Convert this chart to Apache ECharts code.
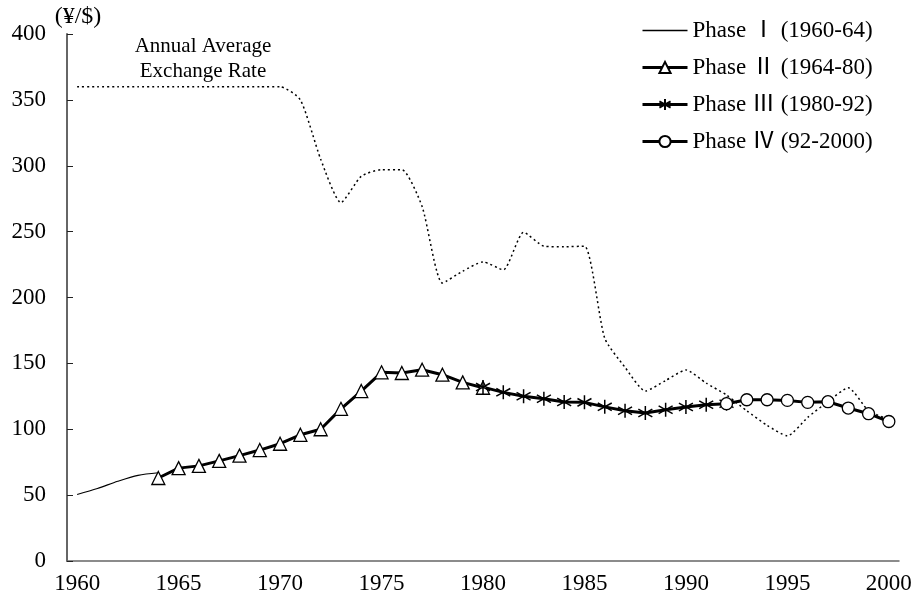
<!DOCTYPE html>
<html>
<head>
<meta charset="utf-8">
<script src="https://cdn.jsdelivr.net/npm/echarts@6/dist/echarts.min.js"></script>
<style>
  html, body { margin: 0; padding: 0; background: #fff; }
  #chart { width: 918px; height: 614px; }
</style>
</head>
<body>
<div id="chart"></div>
<script>
// years on the category axis
var years = [];
for (var y = 1960; y <= 2000; y++) years.push(String(y));

// annual average exchange rate (yen per dollar), 1960-2000
var annualRate = [360, 360, 360, 360, 360, 360, 360, 360, 360, 360, 360,
    350, 305, 272, 292, 297, 297, 269, 211, 220, 227,
    221, 249.5, 239, 238.5, 239, 169, 147, 129, 137, 145,
    135, 126, 114, 103, 95, 109, 121, 131.5, 114, 107.5];

// phases: start year + values
var phase1Start = 1960;
var phase1 = [50.5, 55, 60.5, 65, 67];
var phase2Start = 1964;
var phase2 = [63, 70.5, 72.2, 76, 80, 84.2, 89, 95.8, 100, 115.5, 129, 143.2, 142.7, 145.2, 141.4, 135.6, 131.5];
var phase3Start = 1980;
var phase3 = [132, 128, 125, 123.2, 120.7, 120.4, 117, 114, 112.3, 114.8, 116.9, 118.6, 119.4];
var phase4Start = 1992;
var phase4 = [119.4, 122.4, 122.4, 121.9, 120.4, 120.9, 116.1, 111.8, 105.9];

var phaseNames = ['Phase Ⅰ (1960-64)', 'Phase Ⅱ (1964-80)', 'Phase Ⅲ (1980-92)', 'Phase Ⅳ (92-2000)'];

var yTicks = { min: 0, max: 400, step: 50 };

var FONT = "'Liberation Serif', 'Noto Sans CJK JP', serif";

// put a phase onto the full year axis
function onAxis(start, values) {
    return years.map(function (yr) {
        var i = Number(yr) - start;
        return (i >= 0 && i < values.length) ? values[i] : null;
    });
}

var asterisk = 'path://M0,-1L0,1M-0.9,-0.55L0.9,0.55M-0.9,0.55L0.9,-0.55';

var chart = echarts.init(document.getElementById('chart'));
chart.setOption({
    animation: false,
    backgroundColor: '#fff',
    textStyle: { fontFamily: FONT, color: '#000' },
    grid: { left: 67, right: 19, top: 34, bottom: 53 },
    legend: {
        data: [
            { name: phaseNames[0], icon: 'path://M0,0L45,0L45,1.3L0,1.3Z' },
            phaseNames[1],
            phaseNames[2],
            phaseNames[3]
        ],
        orient: 'vertical',
        left: 636,
        top: 14,
        itemWidth: 45,
        itemHeight: 14,
        itemGap: 14,
        symbolKeepAspect: true,
        lineStyle: { width: 3 },
        textStyle: { fontFamily: FONT, fontSize: 23, color: '#000' }
    },
    graphic: [{
        type: 'text',
        x: 203,
        y: 34,
        style: {
            text: 'Annual Average\nExchange Rate',
            font: '21px ' + FONT,
            fill: '#000',
            align: 'center',
            lineHeight: 25
        }
    }],
    xAxis: {
        type: 'category',
        data: years,
        boundaryGap: true,
        axisLine: { lineStyle: { color: '#666', width: 1.5 } },
        axisTick: { inside: true, length: 5, interval: 0, lineStyle: { color: '#444' } },
        axisLabel: { interval: 4, fontSize: 23, color: '#000', margin: 11, fontFamily: FONT },
        splitLine: { show: false }
    },
    yAxis: {
        type: 'value',
        min: yTicks.min,
        max: yTicks.max,
        interval: yTicks.step,
        name: '(¥/$)',
        nameGap: 5,
        nameTextStyle: { fontSize: 24, color: '#000', fontFamily: FONT, padding: [0, 0, 0, 22] },
        axisLine: { show: true, lineStyle: { color: '#666', width: 2 } },
        axisTick: { show: true, inside: true, length: 6, lineStyle: { color: '#222' } },
        axisLabel: { fontSize: 23, color: '#000', margin: 21, fontFamily: FONT },
        splitLine: { show: false }
    },
    series: [
        {
            name: 'Annual Average Exchange Rate',
            type: 'line',
            data: annualRate,
            smooth: 0.2,
            symbol: 'none',
            lineStyle: { color: '#000', width: 1.5, type: [2, 3] },
            z: 1
        },
        {
            name: phaseNames[0],
            type: 'line',
            data: onAxis(phase1Start, phase1),
            smooth: 0.3,
            symbol: 'none',
            lineStyle: { color: '#000', width: 1.2 },
            itemStyle: { color: '#000' }
        },
        {
            name: phaseNames[1],
            type: 'line',
            data: onAxis(phase2Start, phase2),
            symbol: 'triangle',
            symbolSize: 13,
            showAllSymbol: true,
            lineStyle: { color: '#000', width: 3 },
            itemStyle: { color: '#fff', borderColor: '#000', borderWidth: 1.3 }
        },
        {
            name: phaseNames[2],
            type: 'line',
            data: onAxis(phase3Start, phase3),
            symbol: asterisk,
            symbolSize: 14,
            showAllSymbol: true,
            lineStyle: { color: '#000', width: 3 },
            itemStyle: { color: '#000', borderColor: '#000', borderWidth: 1.5 }
        },
        {
            name: phaseNames[3],
            type: 'line',
            data: onAxis(phase4Start, phase4),
            symbol: 'circle',
            symbolSize: 12,
            showAllSymbol: true,
            lineStyle: { color: '#000', width: 3 },
            itemStyle: { color: '#fff', borderColor: '#000', borderWidth: 1.3 }
        }
    ]
});
</script>
</body>
</html>
